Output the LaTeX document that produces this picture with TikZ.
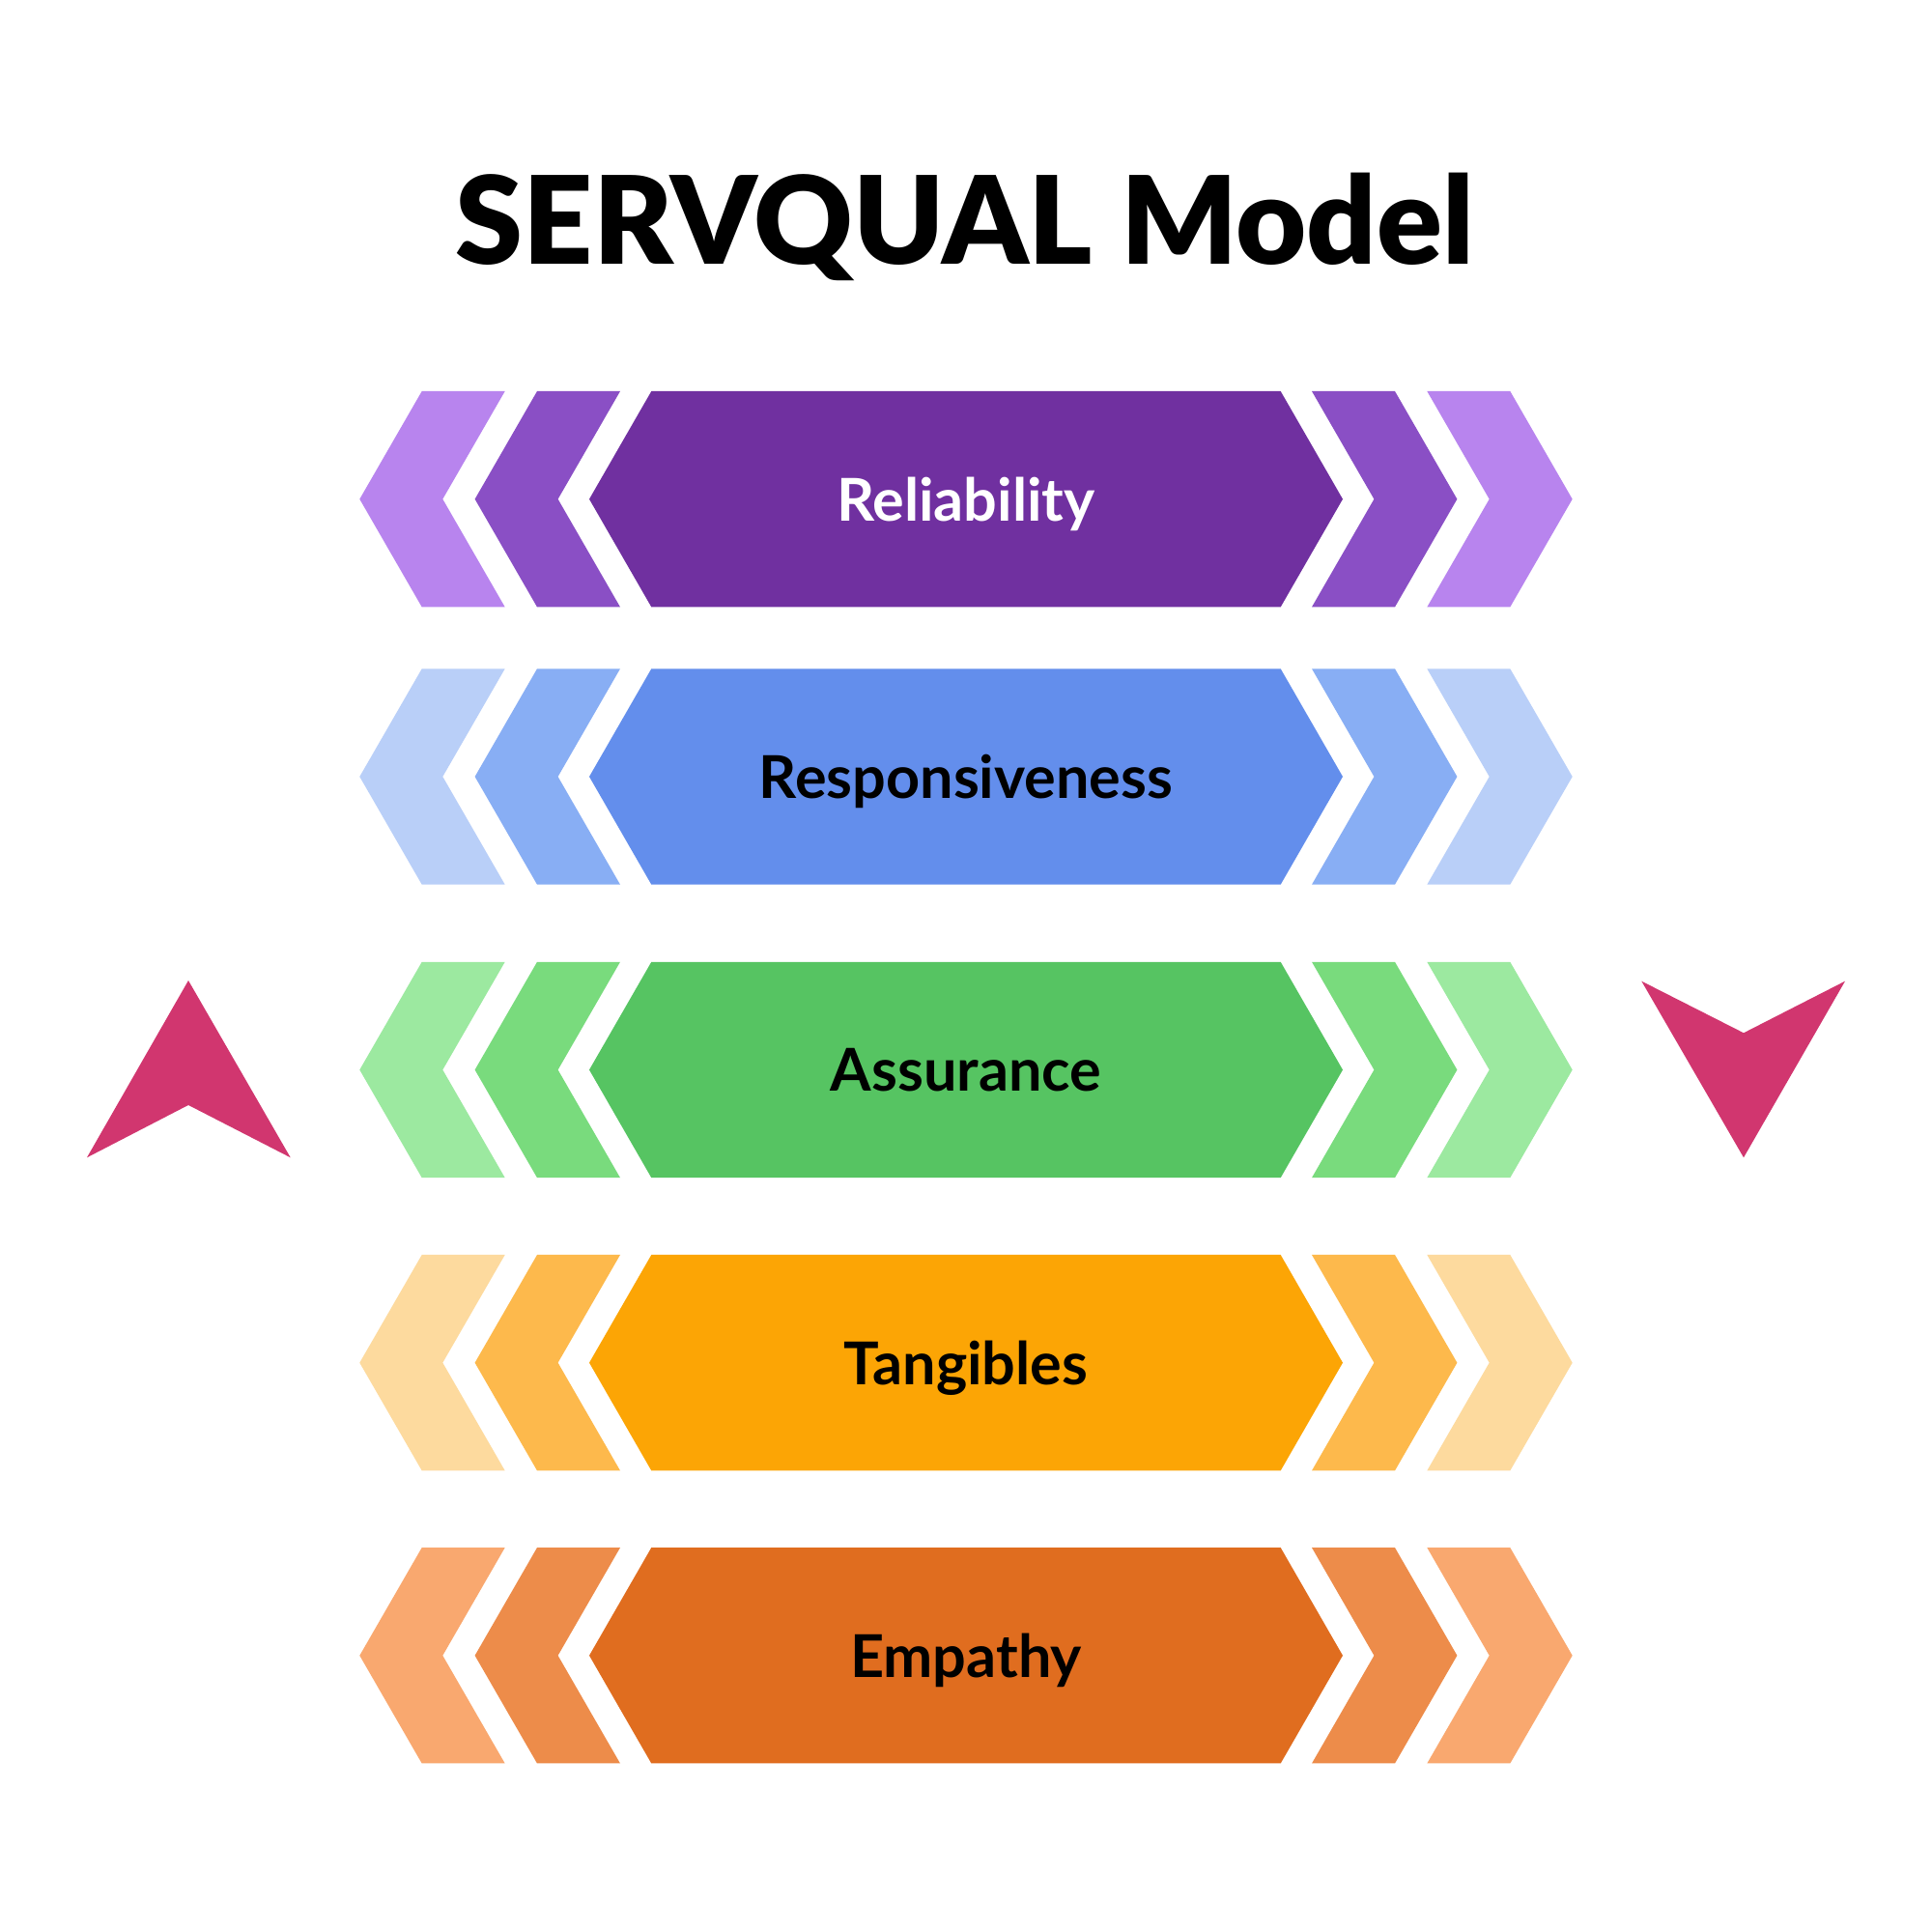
\documentclass[tikz,border=0pt]{standalone}
\usepackage{fontspec}
\setmainfont{Lato}
\newfontfamily\titlefont{Lato Black}

\definecolor{relL}{HTML}{B884EE}
\definecolor{relM}{HTML}{8A4FC5}
\definecolor{relD}{HTML}{7030A0}
\definecolor{resL}{HTML}{B9CFF8}
\definecolor{resM}{HTML}{88AEF4}
\definecolor{resD}{HTML}{638EEC}
\definecolor{assL}{HTML}{9CE9A0}
\definecolor{assM}{HTML}{79DB7D}
\definecolor{assD}{HTML}{56C462}
\definecolor{tanL}{HTML}{FDDA9E}
\definecolor{tanM}{HTML}{FDB94C}
\definecolor{tanD}{HTML}{FCA505}
\definecolor{empL}{HTML}{F9A86F}
\definecolor{empM}{HTML}{ED8C4A}
\definecolor{empD}{HTML}{E06D1F}
\definecolor{arrowpink}{HTML}{D1366F}

\begin{document}
\begin{tikzpicture}
\useasboundingbox (0,0) rectangle (20,20);
\fill[white] (0,0) rectangle (20,20);
\node[font=\titlefont\fontsize{35.9}{40}\selectfont, anchor=base] (title) at (9.99,17.26) {SERVQUAL Model};
\foreach \y/\col/\tc/\lbl [count=\i] in {14.833/rel/white/Reliability,11.96/res/black/Responsiveness,8.925/ass/black/Assurance,5.893/tan/black/Tangibles,2.862/emp/black/Empathy}
{
  % left chevrons
  \fill[\col L] (4.367,\y+1.117) -- (5.227,\y+1.117) -- (4.583,\y) -- (5.227,\y-1.117) -- (4.367,\y-1.117) -- (3.723,\y) -- cycle;
  \fill[\col M] (5.56,\y+1.117) -- (6.42,\y+1.117) -- (5.776,\y) -- (6.42,\y-1.117) -- (5.56,\y-1.117) -- (4.916,\y) -- cycle;
  % right chevrons
  \fill[\col M] (13.58,\y+1.117) -- (14.44,\y+1.117) -- (15.084,\y) -- (14.44,\y-1.117) -- (13.58,\y-1.117) -- (14.224,\y) -- cycle;
  \fill[\col L] (14.773,\y+1.117) -- (15.633,\y+1.117) -- (16.277,\y) -- (15.633,\y-1.117) -- (14.773,\y-1.117) -- (15.417,\y) -- cycle;
  % middle
  \fill[\col D] (6.743,\y+1.117) -- (13.257,\y+1.117) -- (13.9,\y) -- (13.257,\y-1.117) -- (6.743,\y-1.117) -- (6.1,\y) -- cycle;
  \node[text=\tc, font=\bfseries\fontsize{17.4}{20}\selectfont, anchor=base] (label\i) at (10,\y-0.225) {\lbl};
}
% side arrows
\coordinate (upTip) at (1.95,9.85);
\coordinate (downTip) at (18.05,8.017);
\fill[arrowpink] (upTip) -- (3.007,8.017) -- (1.95,8.56) -- (0.9,8.017) -- cycle;
\fill[arrowpink] (downTip) -- (16.993,9.843) -- (18.05,9.307) -- (19.1,9.843) -- cycle;
\end{tikzpicture}
\end{document}
